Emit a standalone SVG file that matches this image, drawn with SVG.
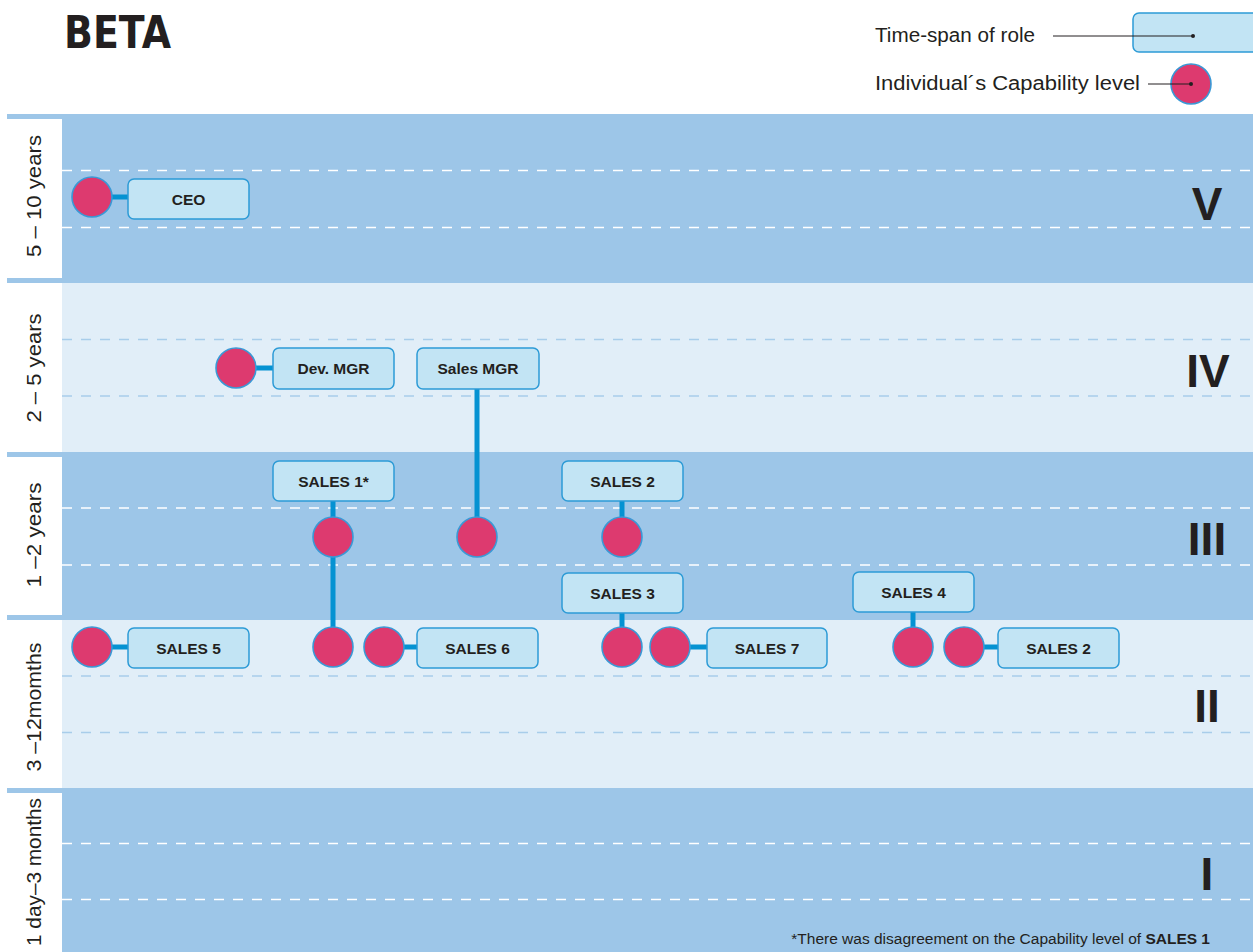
<svg xmlns="http://www.w3.org/2000/svg" width="1253" height="952" viewBox="0 0 1253 952">
  <style>
    .dark { fill: #9dc6e8; }
    .light { fill: #e1eef8; }
    .col { fill: #ffffff; }
    .dash-d { stroke: #ffffff; stroke-width: 1.6; stroke-dasharray: 10 9; fill: none; }
    .dash-l { stroke: #a8cdea; stroke-width: 1.6; stroke-dasharray: 10 9; fill: none; }
    .link { stroke: #0592d2; stroke-width: 5; fill: none; }
    .role { fill: #c2e4f4; stroke: #2d9bd6; stroke-width: 1.5; }
    .cap { fill: #dd3a6f; stroke: #3a99d6; stroke-width: 1.6; }
    .lbl { font-family: "Liberation Sans", Arial, sans-serif; font-weight: bold; font-size: 15.5px; fill: #231f20; text-anchor: middle; }
    .band { font-family: "Liberation Sans", Arial, sans-serif; font-size: 21px; fill: #231f20; text-anchor: middle; }
    .roman { font-family: "Liberation Sans", Arial, sans-serif; font-weight: bold; font-size: 46px; fill: #231f20; text-anchor: middle; }
    .legend { font-family: "Liberation Sans", Arial, sans-serif; font-size: 20px; fill: #231f20; }
    .thin { stroke: #231f20; stroke-width: 1; fill: none; }
  </style>

  <rect width="1253" height="952" fill="#ffffff"/>

  <!-- title -->
  <text x="64" y="48" font-family="DejaVu Sans, Liberation Sans, sans-serif" font-weight="bold" font-size="44" fill="#231f20" textLength="107" lengthAdjust="spacingAndGlyphs">BETA</text>

  <!-- legend -->
  <g id="legend">
    <text class="legend" x="875" y="42" textLength="160" lengthAdjust="spacingAndGlyphs">Time-span of role</text>
    <rect class="role" x="1133" y="13" width="130" height="39" rx="6"/>
    <line class="thin" x1="1053" y1="36" x2="1193" y2="36"/>
    <circle cx="1193" cy="36" r="2" fill="#231f20"/>
    <text class="legend" x="875" y="90" textLength="265" lengthAdjust="spacingAndGlyphs">Individual´s Capability level</text>
    <circle class="cap" cx="1191" cy="84" r="20"/>
    <line class="thin" x1="1148" y1="84" x2="1191" y2="84"/>
    <circle cx="1191" cy="84" r="2" fill="#231f20"/>
  </g>

  <!-- time-span bands -->
  <g id="bands">
    <rect class="dark" x="7" y="114" width="1246" height="169"/>
    <rect class="col" x="0" y="119" width="62" height="159"/>
    <rect class="light" x="62" y="283" width="1191" height="169"/>
    <rect class="dark" x="7" y="452" width="1246" height="168"/>
    <rect class="col" x="0" y="457" width="62" height="158"/>
    <rect class="light" x="62" y="620" width="1191" height="168"/>
    <rect class="dark" x="7" y="788" width="1246" height="164"/>
    <rect class="col" x="0" y="793" width="62" height="159"/>
  </g>

  <g id="gridlines">
    <line class="dash-d" x1="62" y1="170.5" x2="1253" y2="170.5"/>
    <line class="dash-d" x1="62" y1="227.5" x2="1253" y2="227.5"/>
    <line class="dash-l" x1="62" y1="339.5" x2="1253" y2="339.5"/>
    <line class="dash-l" x1="62" y1="396" x2="1253" y2="396"/>
    <line class="dash-d" x1="62" y1="508" x2="1253" y2="508"/>
    <line class="dash-d" x1="62" y1="565" x2="1253" y2="565"/>
    <line class="dash-l" x1="62" y1="676" x2="1253" y2="676"/>
    <line class="dash-l" x1="62" y1="732.5" x2="1253" y2="732.5"/>
    <line class="dash-d" x1="62" y1="843.5" x2="1253" y2="843.5"/>
    <line class="dash-d" x1="62" y1="899.5" x2="1253" y2="899.5"/>
  </g>

  <!-- band labels -->
  <g id="band-labels">
    <text class="band" transform="translate(41 196) rotate(-90)" textLength="122" lengthAdjust="spacingAndGlyphs">5 – 10 years</text>
    <text class="band" transform="translate(41 368) rotate(-90)" textLength="109" lengthAdjust="spacingAndGlyphs">2 – 5 years</text>
    <text class="band" transform="translate(41 535) rotate(-90)" textLength="105" lengthAdjust="spacingAndGlyphs">1 –2 years</text>
    <text class="band" transform="translate(41 707) rotate(-90)" textLength="129" lengthAdjust="spacingAndGlyphs">3 –12momths</text>
    <text class="band" transform="translate(41 872) rotate(-90)" textLength="148" lengthAdjust="spacingAndGlyphs">1 day–3 months</text>
    <text class="roman" x="1207" y="220">V</text>
    <text class="roman" x="1208" y="387">IV</text>
    <text class="roman" x="1207" y="555">III</text>
    <text class="roman" x="1207" y="722">II</text>
    <text class="roman" x="1207" y="890">I</text>
  </g>

  <!-- connectors -->
  <g id="connectors">
    <line class="link" x1="92" y1="197" x2="128" y2="197"/>
    <line class="link" x1="236" y1="368" x2="273" y2="368"/>
    <line class="link" x1="477" y1="389" x2="477" y2="537"/>
    <line class="link" x1="333" y1="501" x2="333" y2="647"/>
    <line class="link" x1="622" y1="501" x2="622" y2="537"/>
    <line class="link" x1="92" y1="647" x2="128" y2="647"/>
    <line class="link" x1="384" y1="647" x2="417" y2="647"/>
    <line class="link" x1="622" y1="613" x2="622" y2="647"/>
    <line class="link" x1="670" y1="647" x2="707" y2="647"/>
    <line class="link" x1="913" y1="612" x2="913" y2="647"/>
    <line class="link" x1="964" y1="647" x2="998" y2="647"/>
  </g>

  <!-- roles -->
  <g id="role-ceo"><rect class="role" x="128" y="179" width="121" height="40" rx="6"/><text class="lbl" x="188.5" y="204.5">CEO</text></g>
  <g id="role-dev-mgr"><rect class="role" x="273" y="348" width="121" height="41" rx="6"/><text class="lbl" x="333.5" y="374">Dev. MGR</text></g>
  <g id="role-sales-mgr"><rect class="role" x="417" y="348" width="122" height="41" rx="6"/><text class="lbl" x="478" y="374">Sales MGR</text></g>
  <g id="role-sales-1"><rect class="role" x="273" y="461" width="121" height="40" rx="6"/><text class="lbl" x="333.5" y="486.5">SALES 1*</text></g>
  <g id="role-sales-2a"><rect class="role" x="562" y="461" width="121" height="40" rx="6"/><text class="lbl" x="622.5" y="486.5">SALES 2</text></g>
  <g id="role-sales-3"><rect class="role" x="562" y="573" width="121" height="40" rx="6"/><text class="lbl" x="622.5" y="598.5">SALES 3</text></g>
  <g id="role-sales-4"><rect class="role" x="853" y="572" width="121" height="40" rx="6"/><text class="lbl" x="913.5" y="597.5">SALES 4</text></g>
  <g id="role-sales-5"><rect class="role" x="128" y="628" width="121" height="40" rx="6"/><text class="lbl" x="188.5" y="653.5">SALES 5</text></g>
  <g id="role-sales-6"><rect class="role" x="417" y="628" width="121" height="40" rx="6"/><text class="lbl" x="477.5" y="653.5">SALES 6</text></g>
  <g id="role-sales-7"><rect class="role" x="707" y="628" width="120" height="40" rx="6"/><text class="lbl" x="767" y="653.5">SALES 7</text></g>
  <g id="role-sales-2b"><rect class="role" x="998" y="628" width="121" height="40" rx="6"/><text class="lbl" x="1058.5" y="653.5">SALES 2</text></g>

  <!-- individuals -->
  <g id="cap-ceo"><circle class="cap" cx="92" cy="197" r="20"/></g>
  <g id="cap-dev-mgr"><circle class="cap" cx="236" cy="368" r="20"/></g>
  <g id="cap-sales-1"><circle class="cap" cx="333" cy="537" r="20"/></g>
  <g id="cap-sales-mgr"><circle class="cap" cx="477" cy="537" r="20"/></g>
  <g id="cap-sales-2a"><circle class="cap" cx="622" cy="537" r="20"/></g>
  <g id="cap-sales-5"><circle class="cap" cx="92" cy="647" r="20"/></g>
  <g id="cap-sales-1b"><circle class="cap" cx="333" cy="647" r="20"/></g>
  <g id="cap-sales-6"><circle class="cap" cx="384" cy="647" r="20"/></g>
  <g id="cap-sales-3"><circle class="cap" cx="622" cy="647" r="20"/></g>
  <g id="cap-sales-7"><circle class="cap" cx="670" cy="647" r="20"/></g>
  <g id="cap-sales-4"><circle class="cap" cx="913" cy="647" r="20"/></g>
  <g id="cap-sales-2b"><circle class="cap" cx="964" cy="647" r="20"/></g>

  <!-- footnote -->
  <text x="1210" y="944" font-family="Liberation Sans, Arial, sans-serif" font-size="15.5" fill="#231f20" text-anchor="end">*There was disagreement on the Capability level of <tspan font-weight="bold">SALES 1</tspan></text>
</svg>
